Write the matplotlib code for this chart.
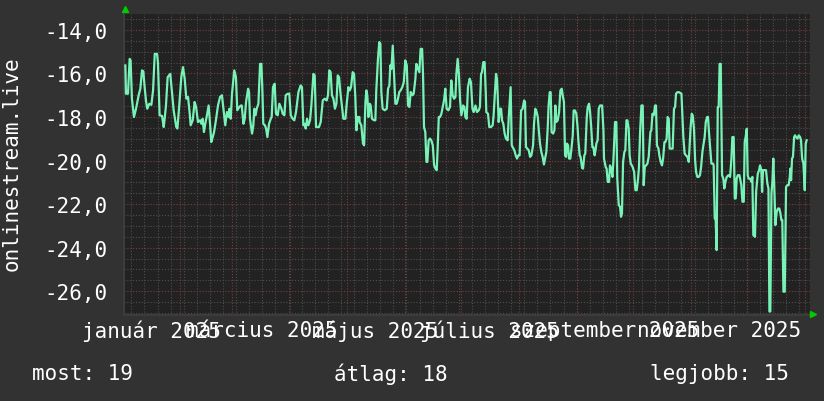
import numpy as np
import matplotlib.pyplot as plt
from matplotlib.transforms import blended_transform_factory

plt.rcParams['font.family'] = ['DejaVu Sans Mono', 'DejaVu Sans']

# day of 2025 (0 = jan 1) and the rank, drawn negated like the original
days = [
    1.8, 2.1, 3.2, 4.1, 4.6, 5.3, 6.4, 7.5, 8.9, 9.8, 10.7, 11.4, 12.1, 12.8, 13.5, 14.6,
    15.7, 16.6, 17.5, 18.7, 19.2, 20.1, 21.4, 22.3, 22.8, 23.5, 24.4, 25.8, 26.7, 27.6, 29.0,
    29.6, 30.6, 31.7, 32.6, 33.5, 34.4, 35.3, 36.2, 36.7, 37.8, 38.8, 39.6, 40.6, 41.7, 42.4,
    43.1, 43.8, 44.5, 45.4, 46.3, 47.0, 47.7, 48.5, 49.2, 50.2, 51.3, 52.4, 53.4, 54.2, 55.2,
    56.1, 57.0, 57.4, 58.1, 58.8, 60.0, 60.9, 61.6, 62.7, 63.6,
    64.0, 64.9, 65.6, 66.3, 67.4, 67.9, 68.4, 69.5, 70.2, 70.7, 71.4, 72.0, 72.9, 73.8, 74.5,
    75.0, 75.5, 76.4, 77.0, 77.7, 78.6, 79.5, 80.0, 80.7, 81.6, 82.3, 83.2, 84.1, 85.2, 85.9,
    86.8, 87.5, 88.6, 89.4, 90.2, 91.2, 92.1, 93.0, 94.3, 95.5, 96.2, 96.9, 97.5, 98.2, 98.9,
    99.6, 100.5, 101.2, 102.3, 103.0, 103.7, 105.3, 106.2, 107.3, 108.3, 109.4, 110.1, 110.8,
    111.5, 112.2, 113.0, 113.8, 114.6, 115.3, 116.0, 116.7, 117.4, 118.3, 119.4, 120.1, 121.0,
    121.7, 122.4, 123.3, 124.0, 124.7, 125.3, 126.0, 126.9,
    127.0, 127.9, 128.8, 129.4, 130.1, 130.6, 131.1, 131.7, 132.4, 132.9, 133.6, 134.7, 135.4,
    135.9, 136.8, 137.5, 138.1, 138.6, 139.3, 140.4, 141.5, 142.2, 142.9, 143.4, 144.0, 144.7,
    145.4, 146.1, 146.8, 147.5, 148.2, 148.9, 149.8, 150.6, 151.4, 152.2, 152.9, 153.6, 154.3,
    155.2, 155.9, 156.8, 157.3, 158.2, 158.9, 159.6, 160.4, 160.9, 161.4, 162.1, 162.7, 163.2,
    163.9, 164.6, 165.3, 166.1, 166.8, 167.5, 168.2, 168.7, 169.3, 170.0, 170.7, 171.6, 172.1,
    172.8, 173.5, 174.4, 175.3, 176.0, 176.7, 177.5, 178.2, 178.7, 179.4, 180.1, 180.7, 181.4,
    182.3, 183.0, 183.5, 184.2, 184.9, 185.8, 186.5, 187.3, 188.0, 188.9,
    189.7, 190.6, 191.3, 191.9, 192.4, 193.1, 193.8, 194.4, 194.7, 195.6, 196.3, 197.2, 198.1,
    198.6, 199.2, 199.9, 200.4, 200.8, 201.3, 202.0, 202.6, 203.1, 203.8, 204.5, 205.2, 206.1,
    206.7, 207.2, 207.7, 208.3, 208.8, 209.7, 210.4, 211.1, 211.8, 212.5, 213.3, 214.1, 214.9,
    215.4, 215.9, 216.6, 217.4, 218.1, 218.8, 219.7, 220.2, 220.9, 221.6, 222.2, 222.7, 223.4,
    224.1, 224.8, 225.5, 226.3, 226.8, 227.5, 228.0, 228.6, 229.1, 229.6, 230.4, 231.1, 231.6,
    232.1, 232.9, 233.6, 234.3, 235.0, 235.7, 236.2, 236.8, 237.3, 237.8, 238.4, 238.9, 239.6,
    240.3, 240.9, 241.4, 242.1, 242.8, 243.4, 243.9, 244.6, 245.1, 245.9, 246.4, 247.1, 247.6,
    248.4, 248.9, 249.6, 250.1, 250.7, 251.4, 251.9, 252.6, 253.2,
    253.5, 254.2, 254.8, 255.5, 256.6, 257.3, 257.6, 258.5, 259.0, 259.6, 260.3, 260.8, 261.5,
    262.1, 262.6, 263.0, 263.5, 264.2, 264.7, 265.5, 266.2, 266.7, 267.2, 267.8, 268.5, 269.0,
    269.6, 270.1, 270.8, 271.3, 271.9, 272.9, 273.7, 274.4, 275.1, 275.8, 276.3, 276.9, 277.6,
    278.3, 278.8, 279.4, 280.1, 280.8, 281.5, 282.4, 282.9, 283.5, 284.2, 284.9, 285.4, 285.9,
    286.7, 287.2, 287.9, 288.6, 289.2, 289.9, 290.4, 291.1, 291.6, 292.2, 292.7, 293.4, 294.3,
    295.0, 295.6, 296.1, 296.8, 297.7, 299.0, 299.5, 300.0, 300.7, 301.4, 302.2, 302.9, 303.4,
    303.9, 304.5, 305.0, 305.7, 306.3, 306.8, 307.5, 308.2, 308.9, 309.5, 310.2, 310.7, 311.4,
    312.0, 312.7, 313.2, 313.7, 314.3, 315.0, 315.9,
    316.2, 316.8, 317.3, 317.8, 318.4, 318.9, 319.4, 320.0, 320.7, 321.4, 321.9, 322.5, 323.2,
    324.1, 325.0, 325.7, 326.2, 326.9, 327.5, 328.0, 328.5, 329.1, 330.0, 330.5, 331.0, 331.6,
    332.3, 332.8, 333.3, 333.9, 334.4, 334.9, 335.7, 336.4, 336.9, 337.4, 338.3, 338.9, 339.8,
    340.5, 341.0, 341.7, 342.1, 342.6, 343.3, 344.2, 344.9, 345.5, 346.0, 346.5, 347.1, 347.6,
    348.1, 348.7, 349.2, 349.9, 350.6, 351.3, 351.9, 352.4, 352.9, 353.5, 354.2, 354.9, 355.6,
    356.3, 356.9, 357.2, 357.6, 358.1, 358.6, 359.2, 359.7, 360.2, 361.0, 361.7, 362.4, 362.9,
    363.5, 364.2, 364.9, 365.4, 365.9,
]
ranks = [
    -15.63, -16.93, -16.93, -15.33, -15.40, -17.16, -18.00, -17.62, -17.00, -16.70, -15.86, -15.90,
    -16.63, -17.24, -17.62, -17.39, -17.44, -16.78, -15.10, -15.10, -15.48, -17.92, -17.95, -18.46,
    -18.08, -17.47, -16.17, -16.02, -16.85, -17.69, -18.46, -18.53, -17.47, -16.17, -15.71, -16.24,
    -17.16, -17.08, -17.85, -18.38, -18.15, -17.31, -17.54, -18.23, -18.15, -18.31, -18.08, -18.69,
    -18.31, -17.92, -17.47, -18.23, -19.15, -18.92, -18.69, -18.15, -17.47, -17.08, -17.00, -17.62,
    -18.38, -17.77, -18.00, -17.62, -18.08, -16.93, -15.86, -16.17, -17.69, -17.54, -17.47,
    -17.47, -18.31, -18.08, -17.31, -16.70, -16.85, -18.08, -18.76, -18.38, -17.62, -17.92, -17.62,
    -17.39, -15.56, -15.56, -16.70, -18.31, -18.38, -18.53, -18.92, -18.31, -18.08, -18.00, -16.63,
    -16.47, -17.85, -17.92, -17.39, -17.62, -17.85, -17.92, -17.00, -16.93, -16.93, -17.92, -18.08,
    -18.15, -17.77, -16.85, -16.55, -16.63, -18.38, -18.31, -18.53, -18.08, -18.38, -18.15, -17.47,
    -16.02, -16.09, -18.46, -18.46, -18.23, -17.24, -17.16, -17.24, -17.00, -15.86, -15.94, -17.00,
    -17.16, -17.62, -17.39, -16.09, -16.17, -16.85, -17.39, -18.08, -18.08, -17.39, -16.63, -16.78,
    -16.63, -15.94, -16.02, -17.08, -18.61, -18.00, -18.00,
    -18.23, -18.38, -19.22, -19.30, -17.31, -16.78, -17.00, -18.00, -17.39, -17.47, -18.08, -18.15,
    -18.15, -16.78, -15.33, -14.56, -14.64, -16.85, -17.62, -17.69, -17.62, -16.70, -16.55, -15.63,
    -15.79, -14.72, -16.09, -17.39, -17.39, -17.16, -16.85, -16.78, -16.63, -16.40, -15.40, -15.63,
    -17.47, -17.54, -16.85, -17.00, -16.93, -16.24, -15.56, -15.79, -15.94, -14.87, -14.87, -16.09,
    -18.46, -18.69, -20.06, -20.06, -19.07, -18.99, -19.07, -19.30, -20.21, -20.37, -20.44, -19.45,
    -18.00, -18.00, -17.85, -17.47, -17.24, -16.70, -17.62, -17.69, -17.54, -16.32, -17.00, -17.16,
    -17.08, -16.02, -15.33, -16.09, -17.24, -17.92, -17.47, -17.54, -18.00, -18.08, -16.63, -16.24,
    -16.40, -17.62, -17.77, -17.47,
    -17.77, -17.70, -17.54, -16.02, -15.94, -15.48, -15.48, -16.86, -17.77, -17.85, -18.46, -18.46,
    -18.38, -17.93, -17.01, -16.02, -16.25, -17.01, -18.23, -17.62, -17.62, -18.15, -18.31, -18.76,
    -18.99, -19.07, -18.00, -17.31, -16.63, -19.30, -19.38, -19.53, -19.76, -19.91, -19.76, -19.76,
    -17.70, -17.62, -17.24, -17.31, -19.38, -19.45, -19.53, -19.83, -19.76, -19.30, -18.31, -17.62,
    -17.77, -18.00, -18.54, -19.22, -19.60, -19.83, -20.18, -19.83, -19.60, -18.54, -17.47, -16.86,
    -16.86, -18.69, -18.76, -18.61, -17.47, -18.23, -18.15, -17.77, -16.78, -16.70, -17.09, -17.31,
    -19.76, -19.83, -19.22, -19.30, -19.91, -19.91, -19.38, -18.84, -17.70, -17.70, -17.85, -18.38,
    -19.07, -19.76, -19.83, -20.34, -20.37, -19.76, -19.68, -18.00, -17.54, -17.39, -17.70, -18.38,
    -19.38, -19.38, -19.76, -19.45,
    -19.22, -19.07, -17.62, -17.47, -17.47, -18.61, -19.91, -20.29, -20.37, -20.98, -20.98, -20.22,
    -20.37, -20.75, -20.06, -19.22, -18.23, -18.23, -20.83, -22.05, -22.12, -22.58, -22.43, -20.06,
    -19.60, -19.53, -18.15, -18.15, -18.54, -19.76, -20.14, -20.29, -20.52, -21.36, -21.36, -20.83,
    -20.29, -18.69, -17.47, -17.47, -21.13, -20.29, -20.22, -20.14, -19.83, -18.69, -18.61, -17.85,
    -17.92, -17.47, -17.47, -19.30, -19.45, -19.76, -20.06, -20.22, -19.91, -19.15, -19.15, -18.99,
    -18.00, -18.08, -19.45, -19.45, -19.45, -17.62, -17.54, -16.93, -16.86, -16.86, -16.93, -17.92,
    -18.92, -19.68, -19.76, -19.83, -20.06, -19.30, -18.46, -17.85, -17.92, -18.54, -19.98, -20.52,
    -20.75, -20.75, -20.67, -20.29, -19.60, -19.30, -18.92, -18.23, -18.00, -18.00, -18.69, -19.38,
    -20.14, -20.14,
    -20.22, -22.66, -22.73, -24.11, -17.54, -17.54, -15.56, -15.56, -20.67, -20.83, -21.28, -20.98,
    -20.75, -20.67, -20.75, -19.91, -18.92, -18.92, -21.74, -21.74, -20.83, -20.67, -20.67, -20.90,
    -21.13, -21.89, -21.89, -19.15, -18.92, -18.54, -20.67, -20.83, -20.83, -20.98, -20.75, -23.42,
    -23.50, -21.44, -20.60, -20.44, -20.22, -20.44, -21.44, -20.44, -20.44, -20.44, -21.05, -21.28,
    -26.93, -26.93, -21.51, -20.98, -19.91, -21.44, -22.96, -22.35, -22.20, -22.20, -22.43, -22.73,
    -22.73, -26.02, -26.02, -21.21, -21.13, -21.13, -20.75, -20.37, -20.90, -19.91, -19.83, -18.92,
    -18.84, -18.92, -18.99, -18.84, -18.92, -19.07, -19.91, -20.14, -21.36, -19.22, -19.07,
]

yticks = [-14, -16, -18, -20, -22, -24, -26]
month_starts = [0, 31, 59, 90, 120, 151, 181, 212, 243, 273, 304, 334, 365]
month_labels = ['január 2025', 'március 2025', 'május 2025', 'július 2025',
                'szeptember 2025', 'november 2025']
label_days = [15.5, 74.5, 135.5, 196.5, 258, 319]
legend_names = ['most', 'átlag', 'legjobb']
legend_values = [19, 18, 15]

bg = '#323232'
fg = '#ffffff'
red = '#7a3c3c'
grey = '#4e4e4e'
dots = (0, (1, 1.6))

fig = plt.figure(figsize=(8.24, 4.02), dpi=100, facecolor=bg)
ax = fig.add_axes([124 / 824, 86 / 402, 686 / 824, 301 / 402])
ax.set_facecolor('#222222')
ax.set_xlim(1.07, 367.7)
ax.set_ylim(-27.09, -13.27)

# minor grid: weeks and half units
for d in range(5, 368, 7):
    ax.axvline(d, color=grey, lw=0.8, ls=dots, zorder=1)
for v in np.arange(-27.0, -13.2, 0.5):
    if v % 2 != 0:
        ax.axhline(v, color=grey, lw=0.8, ls=dots, zorder=1)
# major grid: months and every 2
for d in month_starts:
    ax.axvline(d, color=red, lw=0.8, ls=dots, zorder=2)
for v in yticks:
    ax.axhline(v, color=red, lw=0.8, ls=dots, zorder=2)

ax.plot(days, ranks, color='#78f2b6', lw=1.6, zorder=3)

ax.set_yticks(yticks)
ax.set_yticklabels([f'{v:.1f}'.replace('.', ',') for v in yticks])
ax.set_xticks([])
ax.tick_params(axis='y', length=0, pad=12, labelsize=15, labelcolor=fg)
for s in ['top', 'right']:
    ax.spines[s].set_visible(False)
for s in ['left', 'bottom']:
    ax.spines[s].set_color('#3c3c3c')
    ax.spines[s].set_linewidth(1.5)

trans = blended_transform_factory(ax.transData, ax.transAxes)
for d, lab in zip(label_days, month_labels):
    ax.text(d, -0.05, lab, transform=trans, ha='center', va='center',
            fontsize=15, color=fg, clip_on=False)

# little green arrows at the axis ends
ax.plot([0.001], [1.015], marker='^', color='#00cc00', ms=5, transform=ax.transAxes,
        clip_on=False, zorder=5)
ax.plot([1.004], [0.003], marker='>', color='#00cc00', ms=5, transform=ax.transAxes,
        clip_on=False, zorder=5)

fig.text(12 / 824, 1 - 164 / 402, 'onlinestream.live', rotation=90, ha='center',
         va='center', fontsize=15, color=fg)

legend_x = [32, 334, 650]
for x, name, val in zip(legend_x, legend_names, legend_values):
    fig.text(x / 824, 1 - 374 / 402, f'{name}: {val}', ha='left', va='center',
             fontsize=15, color=fg)

fig.savefig('out.png', dpi=100, facecolor=bg)
